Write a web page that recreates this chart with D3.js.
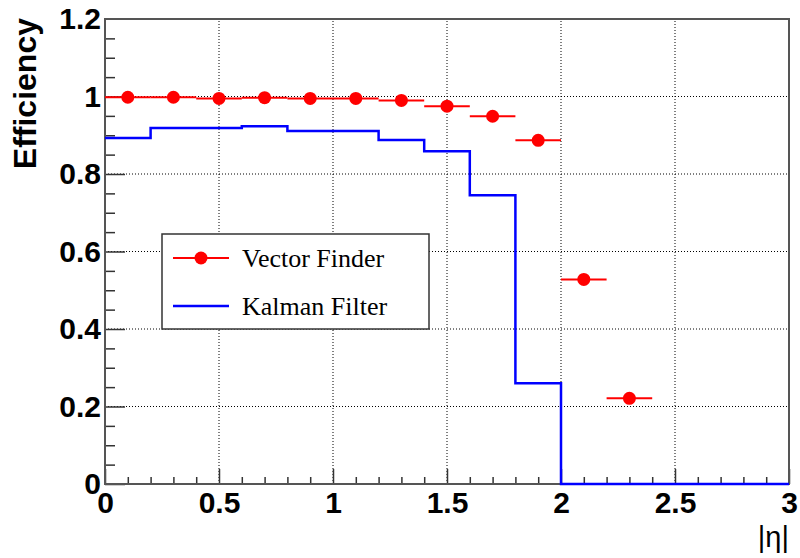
<!DOCTYPE html>
<html lang="en">
<head>
    <meta charset="UTF-8">
    <title>Efficiency vs |eta|</title>
    <script src="https://cdnjs.cloudflare.com/ajax/libs/d3/7.8.5/d3.min.js"></script>
    <style>
        body { margin: 0; background: #fff; }
        .tick text { font-family: "Liberation Sans", Arial, sans-serif; font-weight: bold; font-size: 30px; fill: #000; }
        .grid line { stroke: #000; stroke-width: 1; stroke-dasharray: 1,2; }
        .legend text { font-family: "Liberation Serif", "Times New Roman", serif; font-size: 26px; fill: #000; }
    </style>
</head>
<body>
<div id="container"></div>
<script>
    // Data
    const vfEta = [0.1, 0.3, 0.5, 0.7, 0.9, 1.1, 1.3, 1.5, 1.7, 1.9, 2.1, 2.3];
    const vfEff = [0.998, 0.998, 0.995, 0.997, 0.995, 0.995, 0.990, 0.975, 0.949, 0.887, 0.528, 0.221];
    const vfHalfBin = 0.1;

    const kfEdges = [0, 0.2, 0.4, 0.6, 0.8, 1.0, 1.2, 1.4, 1.6, 1.8, 2.0, 2.2, 2.4, 2.6, 2.8, 3.0];
    const kfEff = [0.893, 0.919, 0.919, 0.923, 0.911, 0.911, 0.888, 0.859, 0.745, 0.260, 0, 0, 0, 0, 0];

    const xMajor = [0, 0.5, 1, 1.5, 2, 2.5, 3];
    const yMajor = [0, 0.2, 0.4, 0.6, 0.8, 1, 1.2];
    const legendNames = ["Vector Finder", "Kalman Filter"];

    // Setup
    const width = 800, height = 558;
    const margin = { left: 105, right: 11, top: 19, bottom: 74 };

    const svg = d3.select("#container").append("svg")
        .attr("width", width).attr("height", height);

    const x = d3.scaleLinear().domain([0, 3]).range([margin.left, width - margin.right]);
    const y = d3.scaleLinear().domain([0, 1.2]).range([height - margin.bottom, margin.top]);

    const fmt = d => String(+d.toFixed(2));

    // Grid
    svg.append("g").attr("class", "grid")
        .selectAll("line").data(xMajor.filter(v => v > 0 && v < 3)).join("line")
        .attr("x1", d => x(d)).attr("x2", d => x(d))
        .attr("y1", y(0)).attr("y2", y(1.2));
    svg.append("g").attr("class", "grid")
        .selectAll("line").data(yMajor.filter(v => v > 0 && v < 1.2)).join("line")
        .attr("x1", x(0)).attr("x2", x(3))
        .attr("y1", d => y(d)).attr("y2", d => y(d));

    // Axes
    const xMinor = d3.range(0, 31).map(i => i / 10).filter(v => !xMajor.some(m => Math.abs(m - v) < 1e-6));
    const yMinor = d3.range(0, 25).map(i => i / 20).filter(v => !yMajor.some(m => Math.abs(m - v) < 1e-6));

    svg.append("g").attr("transform", `translate(0,${y(0)})`)
        .call(d3.axisBottom(x).tickValues(xMajor).tickFormat(fmt).tickSizeInner(-15).tickSizeOuter(0).tickPadding(8));
    svg.append("g").attr("transform", `translate(0,${y(0)})`)
        .call(d3.axisBottom(x).tickValues(xMinor).tickFormat("").tickSizeInner(-7).tickSizeOuter(0))
        .select(".domain").remove();

    const yAxis = svg.append("g").attr("transform", `translate(${x(0)},0)`)
        .call(d3.axisLeft(y).tickValues(yMajor).tickFormat(fmt).tickSizeInner(-20).tickSizeOuter(0).tickPadding(4));
    svg.append("g").attr("transform", `translate(${x(0)},0)`)
        .call(d3.axisLeft(y).tickValues(yMinor).tickFormat("").tickSizeInner(-10).tickSizeOuter(0))
        .select(".domain").remove();

    svg.selectAll(".tick line").attr("stroke", "#333").attr("stroke-width", 1.5);
    yAxis.selectAll(".tick").filter(d => d === 1.2).select("line").remove();

    // Frame
    svg.append("rect")
        .attr("x", x(0)).attr("y", y(1.2))
        .attr("width", x(3) - x(0)).attr("height", y(0) - y(1.2))
        .attr("fill", "none").attr("stroke", "#555").attr("stroke-width", 2);

    // Kalman Filter histogram
    const kfPoints = kfEff.map((v, i) => [kfEdges[i], v]);
    kfPoints.push([kfEdges[kfEdges.length - 1], kfEff[kfEff.length - 1]]);
    svg.append("path")
        .datum(kfPoints)
        .attr("fill", "none").attr("stroke", "#0000ff").attr("stroke-width", 2.5)
        .attr("d", d3.line().x(d => x(d[0])).y(d => y(d[1])).curve(d3.curveStepAfter));

    // Vector Finder points with horizontal bars
    const vf = vfEta.map((e, i) => ({ eta: e, eff: vfEff[i] }));
    svg.append("g").selectAll("line").data(vf).join("line")
        .attr("x1", d => x(d.eta - vfHalfBin)).attr("x2", d => x(d.eta + vfHalfBin))
        .attr("y1", d => y(d.eff)).attr("y2", d => y(d.eff))
        .attr("stroke", "#ff0000").attr("stroke-width", 2);
    svg.append("g").selectAll("circle").data(vf).join("circle")
        .attr("cx", d => x(d.eta)).attr("cy", d => y(d.eff))
        .attr("r", 6.5).attr("fill", "#ff0000");

    // Legend
    const legend = svg.append("g").attr("class", "legend");
    legend.append("rect")
        .attr("x", 162).attr("y", 234).attr("width", 267).attr("height", 95)
        .attr("fill", "#fff").attr("stroke", "#333").attr("stroke-width", 1.5);
    legend.append("line").attr("x1", 173).attr("x2", 229).attr("y1", 258).attr("y2", 258)
        .attr("stroke", "#ff0000").attr("stroke-width", 2);
    legend.append("circle").attr("cx", 201).attr("cy", 258).attr("r", 6.5).attr("fill", "#ff0000");
    legend.append("line").attr("x1", 173).attr("x2", 229).attr("y1", 306).attr("y2", 306)
        .attr("stroke", "#0000ff").attr("stroke-width", 2.5);
    legend.append("text").attr("x", 242).attr("y", 267).text(legendNames[0]);
    legend.append("text").attr("x", 242).attr("y", 315).text(legendNames[1]);

    // Axis titles
    svg.append("text")
        .attr("transform", `translate(36,18) rotate(-90)`)
        .attr("text-anchor", "end")
        .style("font-family", "Liberation Sans, Arial, sans-serif")
        .style("font-weight", "bold").style("font-size", "32px")
        .text("Efficiency");
    svg.append("text")
        .attr("x", 789).attr("y", 547)
        .attr("text-anchor", "end")
        .style("font-family", "Liberation Sans, Arial, sans-serif")
        .style("font-size", "29px")
        .text("|η|");
</script>
</body>
</html>
